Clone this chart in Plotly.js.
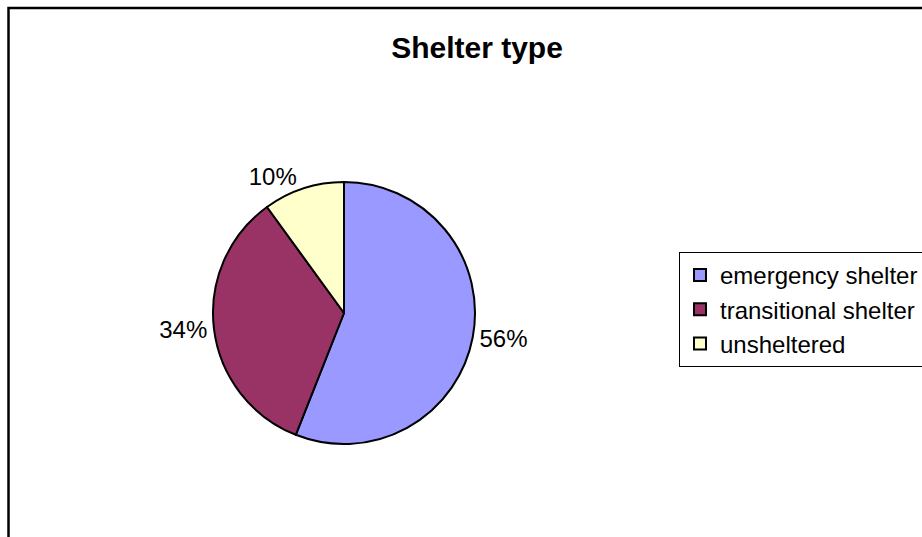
<!DOCTYPE html>
<html>
<head>
<meta charset="utf-8">
<script src="https://cdn.plot.ly/plotly-3.0.1.min.js"></script>
<style>html,body{margin:0;padding:0;background:#fff;}#chart{width:922px;height:537px;}</style>
</head>
<body>
<div id="chart"></div>
<script>
const categories = ["emergency shelter", "transitional shelter", "unsheltered"];
const shares = [56, 34, 10];
const colors = ["#9999FF", "#993366", "#FFFFCC"];
const chartTitle = "Shelter type";

const W = 922, H = 537;
const cx = 344, cy = 313, R = 131;

const data = [{
  type: "pie",
  labels: categories,
  values: shares,
  sort: false,
  direction: "clockwise",
  rotation: 0,
  marker: {colors: colors, line: {color: "#000000", width: 2}},
  textinfo: "percent",
  texttemplate: "%{percent:.0%}",
  textposition: "outside",
  outsidetextfont: {family: "Liberation Sans, Arial, sans-serif", size: 24, color: "#000"},
  domain: {x: [(cx - R) / W, (cx + R) / W], y: [(H - cy - R) / H, (H - cy + R) / H]},
  hoverinfo: "none"
}];

const layout = {
  width: W, height: H,
  margin: {l: 0, r: 0, t: 0, b: 0, autoexpand: false},
  paper_bgcolor: "#ffffff",
  font: {family: "Liberation Sans, Arial, sans-serif", color: "#000"},
  title: {
    text: chartTitle,
    x: 477 / W, xanchor: "center",
    y: 1 - 47 / H, yanchor: "middle",
    font: {family: "Liberation Sans, Arial, sans-serif", size: 30, weight: "bold", color: "#000"}
  },
  showlegend: true,
  legend: {
    x: 679 / W, xanchor: "left",
    y: 1 - 252 / H, yanchor: "top",
    bordercolor: "#000", borderwidth: 1,
    bgcolor: "#ffffff",
    font: {family: "Liberation Sans, Arial, sans-serif", size: 24, color: "#000"},
    tracegroupgap: 0,
    itemwidth: 30
  },
  shapes: [{
    type: "rect", xref: "paper", yref: "paper",
    x0: 8.5 / W, x1: 1.2, y0: -0.2, y1: 1 - 8 / H,
    line: {color: "#000", width: 2.5}, fillcolor: "rgba(0,0,0,0)"
  }]
};

Plotly.newPlot("chart", data, layout, {displayModeBar: false, staticPlot: true});
</script>
</body>
</html>
